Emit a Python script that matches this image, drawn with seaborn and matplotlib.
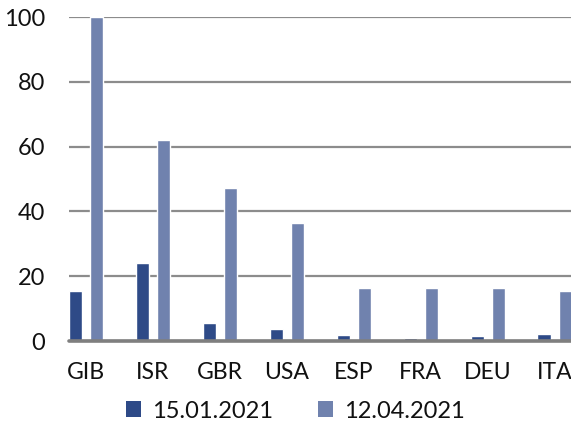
import matplotlib
matplotlib.use("Agg")
import matplotlib.pyplot as plt
import seaborn as sns
import pandas as pd
from matplotlib.patches import Patch

countries = ["GIB", "ISR", "GBR", "USA", "ESP", "FRA", "DEU", "ITA"]
series_names = ["15.01.2021", "12.04.2021"]
values_jan = [15.3, 24.2, 5.5, 3.6, 1.9, 0.9, 1.5, 2.2]
values_apr = [100.0, 62.0, 47.1, 36.3, 16.3, 16.3, 16.3, 15.3]
y_ticks = [0, 20, 40, 60, 80, 100]

df = pd.DataFrame({
    "country": countries * 2,
    "date": [series_names[0]] * len(countries) + [series_names[1]] * len(countries),
    "value": values_jan + values_apr,
})

sns.set_theme(style="white")
plt.rcParams["font.family"] = ["Lato", "DejaVu Sans"]

W, H = 571, 425
fig = plt.figure(figsize=(W / 100, H / 100), dpi=100)
ax = fig.add_axes([69 / W, (H - 341) / H, 1 - 69 / W, (341 - 17) / H])

palette = {series_names[0]: "#2E4A87", series_names[1]: "#7082AE"}
sns.barplot(data=df, x="country", y="value", hue="date", order=countries,
            hue_order=series_names, palette=palette, width=0.628, gap=0.38,
            saturation=1, ax=ax, legend=False, zorder=3)

ax.set_xlim(-0.254, 7 + (571 - 554.5) / 67)
ax.set_ylim(0, 100)
ax.set_yticks(y_ticks)
ax.set_yticklabels([str(t) for t in y_ticks])
ax.set_xlabel("")
ax.set_ylabel("")
for s in ax.spines.values():
    s.set_visible(False)
ax.grid(axis="y", color="#8c8c8c", linewidth=1.6, zorder=1)
ax.grid(axis="x", visible=False)
ax.axhline(0, color="#7f7f7f", linewidth=2.6, zorder=4, clip_on=False)
ax.tick_params(axis="y", length=0, pad=17, labelsize=17, labelcolor="#111111")
ax.tick_params(axis="x", length=0, pad=15, labelsize=16.6, labelcolor="#111111")

handles = [Patch(facecolor=palette[n], edgecolor="none") for n in series_names]
fig.legend(handles, series_names, loc="center", bbox_to_anchor=(295 / W, 1 - 411 / H),
           ncol=2, frameon=False, fontsize=17, handlelength=0.65, handleheight=0.65,
           handletextpad=0.45, columnspacing=1.9, labelcolor="#111111")

fig.savefig("out.png", dpi=100)
